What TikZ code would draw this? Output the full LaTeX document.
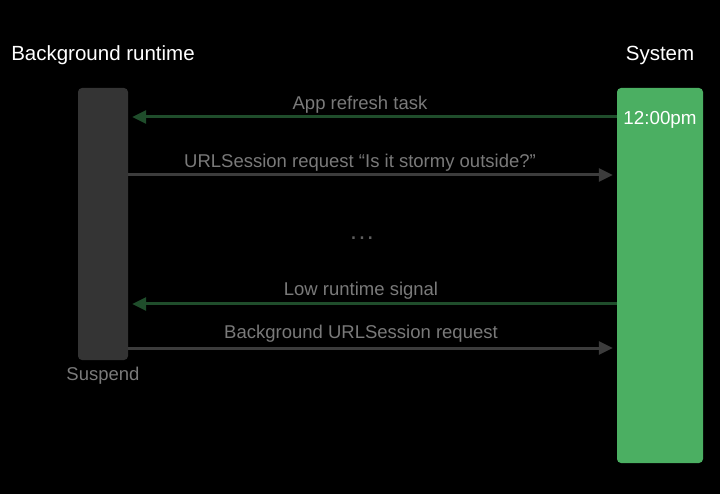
\documentclass[tikz,border=0pt]{standalone}
\usepackage{fontspec}
\setmainfont{Liberation Sans}
\usetikzlibrary{arrows.meta}
\definecolor{bgbar}{HTML}{343434}
\definecolor{sysgreen}{HTML}{4BAF62}
\definecolor{darkgreen}{HTML}{1F4D2B}
\definecolor{grayline}{HTML}{3C3C3C}
\definecolor{labelgray}{HTML}{7A7A7A}
\tikzset{
  bar/.style={draw=none, rounded corners=4pt, inner sep=0pt},
  header/.style={text=white, font=\fontsize{20.5}{24}\selectfont, inner sep=0pt, anchor=base},
  lbl/.style={text=labelgray, font=\fontsize{18.5}{22}\selectfont, inner sep=0pt, anchor=base},
  toleft/.style={draw=darkgreen, line width=3pt, -{Triangle[length=14pt,width=13pt]}, shorten >=4pt},
  toright/.style={draw=grayline, line width=3pt, -{Triangle[length=14pt,width=13pt]}, shorten >=4pt},
}
\begin{document}
\begin{tikzpicture}[x=1pt,y=-1pt]
\fill[black] (0,0) rectangle (720,494);
\useasboundingbox (0,0) rectangle (720,494);
\node[bar, fill=bgbar, minimum width=50pt, minimum height=272pt] (bg) at (103,224) {};
\node[bar, fill=sysgreen, minimum width=86pt, minimum height=375pt] (sys) at (660,275.5) {};
\node[header] (hbg) at (103,61) {Background runtime};
\node[header] (hsys) at (660,61) {System};
\node[header, font=\fontsize{18.8}{22}\selectfont] (time) at (660,124.5) {12:00pm};
\node[lbl] (suspend) at (103,380) {Suspend};
\coordinate (y1) at (0,117);
\coordinate (y2) at (0,175);
\coordinate (y3) at (0,304);
\coordinate (y4) at (0,348);
\draw[toleft] (sys.west |- y1) -- (bg.east |- y1);
\draw[toright] (bg.east |- y2) -- (sys.west |- y2);
\draw[toleft] (sys.west |- y3) -- (bg.east |- y3);
\draw[toright] (bg.east |- y4) -- (sys.west |- y4);
\node[lbl] (l1) at (360,109.3) {App refresh task};
\node[lbl] (l2) at (360,167.3) {URLSession request “Is it stormy outside?”};
\node[lbl, text=labelgray!120, font=\fontsize{25}{28}\selectfont] (dots) at (362,239.5) {.\hspace{1.5pt}.\hspace{1.5pt}.};
\node[lbl] (l3) at (361,295) {Low runtime signal};
\node[lbl] (l4) at (361,338.3) {Background URLSession request};
\end{tikzpicture}
\end{document}
